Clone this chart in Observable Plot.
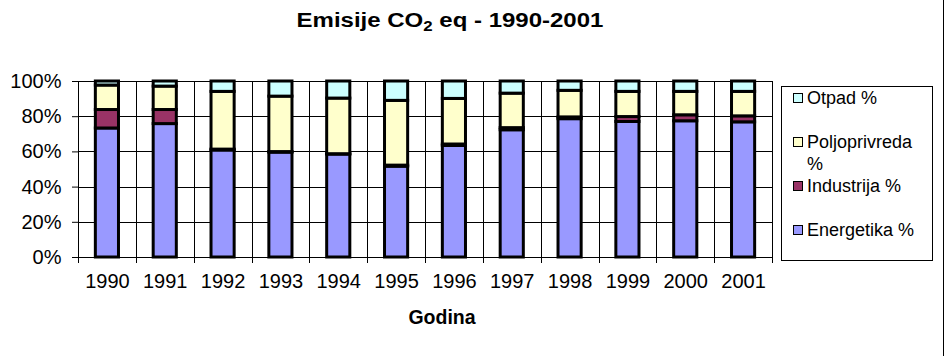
<!DOCTYPE html>
<html><head><meta charset="utf-8">
<script src="https://cdn.jsdelivr.net/npm/d3@7"></script>
<script src="https://cdn.jsdelivr.net/npm/@observablehq/plot@0.6"></script>
<style>
html,body{margin:0;padding:0;background:#fff;}
#wrap{position:relative;width:945px;height:356px;overflow:hidden;font-family:"Liberation Sans",Arial,sans-serif;color:#000;background:#fff;}
#title{position:absolute;left:0;width:900px;top:8px;text-align:center;font-weight:bold;font-size:20px;line-height:24px;transform:scaleX(1.2);transform-origin:450px 0;white-space:nowrap;}
#title sub{font-size:14px;line-height:0;vertical-align:-4px;}
#xlabel{position:absolute;left:0;width:884px;top:305px;text-align:center;font-weight:bold;font-size:19.5px;line-height:24px;}
#legend{position:absolute;left:781px;top:86px;width:150px;height:173px;border:1px solid #000;font-size:18px;line-height:22px;}
.item{display:flex;align-items:flex-start;}
.sw{width:8px;height:8px;border:1.5px solid #000;margin-left:11px;margin-top:6px;flex:none;}
.lab{margin-left:4px;width:118px;}
#rborder{position:absolute;left:943px;top:0;width:1px;height:356px;background:#000;}
#chart{position:absolute;left:0;top:0;}
</style></head>
<body>
<div id="wrap">
  <div id="chart"></div>
  <div id="title">Emisije CO<sub>2</sub> eq - 1990-2001</div>
  <div id="xlabel">Godina</div>
  <div id="legend"></div>
  <div id="rborder"></div>
</div>
<script>
const years = ["1990","1991","1992","1993","1994","1995","1996","1997","1998","1999","2000","2001"];
const energetika    = [73.3, 75.8, 60.8, 59.6, 58.5, 51.6, 63.4, 72.3, 78.6, 77.0, 77.4, 76.8];
const industrija    = [10.5,  8.0,  0.5,  0.3,  0.2,  0.6,  0.8,  1.2,  1.0,  2.8,  3.4,  3.4];
const poljoprivreda = [13.9, 13.3, 32.8, 31.5, 31.6, 36.8, 25.9, 19.6, 15.1, 14.3, 13.3, 13.9];
const otpad         = [ 2.3,  2.9,  5.9,  8.6,  9.7, 11.0,  9.9,  6.9,  5.3,  5.9,  5.9,  5.9];
const seriesNames  = ["Energetika %","Industrija %","Poljoprivreda %","Otpad %"];
const seriesColors = ["#9999ff","#993366","#ffffcc","#ccffff"];
const yTicks = [0, 20, 40, 60, 80, 100];
const yTickLabels = ["0%","20%","40%","60%","80%","100%"];
const legendOrder = ["Otpad %","Poljoprivreda %","Industrija %","Energetika %"];

const seriesValues = [energetika, industrija, poljoprivreda, otpad];
const rows = years.flatMap((yr, i) => seriesNames.map((s, j) => ({year: yr, series: s, value: seriesValues[j][i]})));

const W = 945, H = 356, mL = 78, mR = 173, mT = 81, mB = 99;
const step = (W - mL - mR) / years.length;
const yMin = yTicks[0], yMax = yTicks[yTicks.length - 1];

const chart = Plot.plot({
  width: W, height: H,
  marginLeft: mL, marginRight: mR, marginTop: mT, marginBottom: mB,
  style: {fontFamily: "'Liberation Sans', Arial, sans-serif", color: "black", background: "white", overflow: "visible"},
  x: {domain: years, paddingInner: 0.6, paddingOuter: 0.3, round: false, label: null},
  y: {domain: [yMin, yMax], label: null},
  color: {domain: seriesNames, range: seriesColors},
  marks: [
    Plot.gridY(yTicks, {stroke: "black", strokeOpacity: 1, strokeWidth: 1, shapeRendering: "crispEdges"}),
    Plot.ruleX(years, {x: d => d, y1: yMax, y2: yMin, dx: -step / 2, insetBottom: -6, stroke: "black", strokeWidth: 1, shapeRendering: "crispEdges"}),
    Plot.ruleX(years.slice(-1), {x: d => d, y1: yMax, y2: yMin, dx: step / 2, insetBottom: -6, stroke: "black", strokeWidth: 1, shapeRendering: "crispEdges"}),
    Plot.frame({stroke: "black", shapeRendering: "crispEdges"}),
    Plot.barY(rows, Plot.stackY({x: "year", y: "value", fill: "series", order: seriesNames, stroke: "black", strokeWidth: 3})),
    Plot.axisY(yTicks, {tickSize: 6, tickPadding: 11, tickFormat: d => yTickLabels[yTicks.indexOf(d)], fontSize: 20, label: null}),
    Plot.axisX({tickSize: 0, tickPadding: 16, fontSize: 20, label: null})
  ]
});
document.getElementById("chart").appendChild(chart);

const legend = document.getElementById("legend");
legendOrder.forEach((name, k) => {
  const item = document.createElement("div");
  item.className = "item";
  if (k === 0 || k === 2) item.style.marginBottom = "22px";
  const sw = document.createElement("div");
  sw.className = "sw";
  sw.style.background = seriesColors[seriesNames.indexOf(name)];
  const lab = document.createElement("div");
  lab.className = "lab";
  lab.textContent = name;
  item.appendChild(sw);
  item.appendChild(lab);
  legend.appendChild(item);
});
</script>
</body></html>
